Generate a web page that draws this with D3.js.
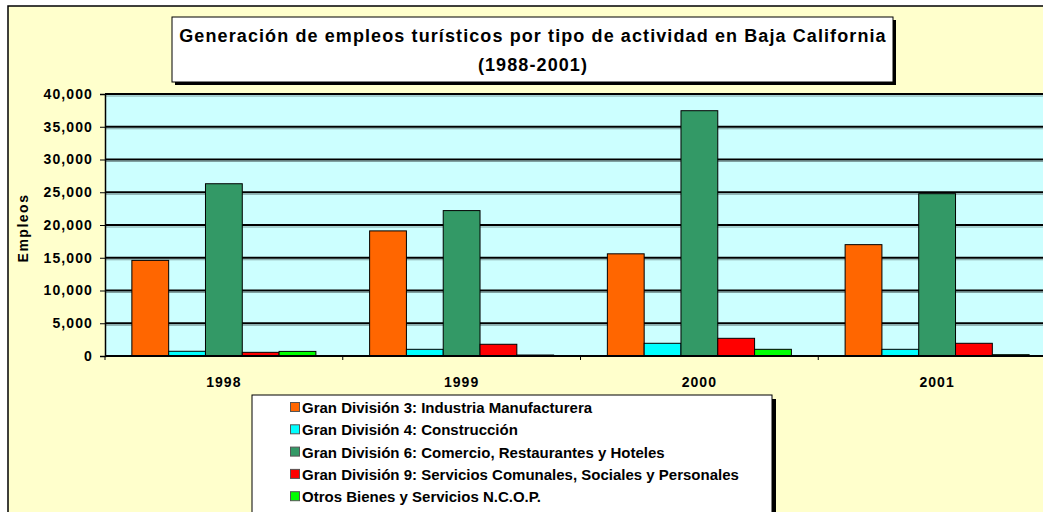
<!DOCTYPE html>
<html>
<head>
<meta charset="utf-8">
<script src="https://cdn.jsdelivr.net/npm/d3@7"></script>
<style>
body { margin: 0; background: #fff; }
text { font-family: "Liberation Sans", Arial, sans-serif; font-weight: bold; }
</style>
</head>
<body>
<svg id="chart"></svg>
<script>
var width = 1043, height = 512

var years = ["1998", "1999", "2000", "2001"]
var seriesNames = [
    "Gran División 3: Industria Manufacturera",
    "Gran División 4: Construcción",
    "Gran División 6: Comercio, Restaurantes y Hoteles",
    "Gran División 9: Servicios Comunales, Sociales y Personales",
    "Otros Bienes y Servicios N.C.O.P."
]
var seriesColors = ["#ff6600", "#00ffff", "#339966", "#ff0000", "#00ff00"]
var manufactura = [14600, 19100, 15600, 17000]
var construccion = [720, 1020, 1940, 1020]
var comercio = [26300, 22200, 37450, 24780]
var servicios = [560, 1790, 2700, 1940]
var otros = [700, 150, 1020, 200]
var values = [manufactura, construccion, comercio, servicios, otros]
var yTicks = [0, 5000, 10000, 15000, 20000, 25000, 30000, 35000, 40000]

var svg = d3.select("#chart")
    .attr("width", width)
    .attr("height", height)

// chart area
svg.append("rect")
    .attr("x", 8).attr("y", 6)
    .attr("width", 1060).attr("height", 520)
    .attr("fill", "#ffffcc")
    .attr("stroke", "#000")
    .attr("stroke-width", 1.5)

var plot = {left: 105, right: 1056, top: 94, bottom: 356}

var x0 = d3.scaleBand()
    .domain(years)
    .range([plot.left, plot.right])
    .paddingInner(0.226)
    .paddingOuter(0.113)

var x1 = d3.scaleBand()
    .domain(d3.range(seriesNames.length))
    .range([0, x0.bandwidth()])

var y = d3.scaleLinear()
    .domain([0, 40000])
    .range([plot.bottom, plot.top])

svg.append("rect")
    .attr("x", plot.left).attr("y", plot.top)
    .attr("width", plot.right - plot.left).attr("height", plot.bottom - plot.top)
    .attr("fill", "#ccffff")

// gridlines
var grid = svg.append("g")
grid.selectAll("line.shadow")
    .data(yTicks.slice(1))
    .enter().append("line")
    .attr("x1", plot.left).attr("x2", plot.right)
    .attr("y1", d => y(d) + 2).attr("y2", d => y(d) + 2)
    .attr("stroke", "#7fa0a0").attr("stroke-width", 1)
grid.selectAll("line.main")
    .data(yTicks.slice(1))
    .enter().append("line")
    .attr("x1", plot.left).attr("x2", plot.right)
    .attr("y1", d => y(d)).attr("y2", d => y(d))
    .attr("stroke", "#000").attr("stroke-width", 2)

// bars
var groups = svg.append("g").selectAll("g")
    .data(years)
    .enter().append("g")
    .attr("transform", d => "translate(" + x0(d) + ",0)")

groups.selectAll("rect")
    .data((d, i) => values.map((s, k) => ({k: k, v: s[i]})))
    .enter().append("rect")
    .attr("x", d => x1(d.k))
    .attr("y", d => y(d.v))
    .attr("width", x1.bandwidth())
    .attr("height", d => plot.bottom - y(d.v))
    .attr("fill", d => seriesColors[d.k])
    .attr("stroke", "#000")
    .attr("stroke-width", 1)

// axes
var yAxis = svg.append("g")
    .attr("transform", "translate(" + plot.left + ",0)")
    .call(d3.axisLeft(y).tickValues(yTicks).tickFormat(d3.format(",")).tickSize(5).tickPadding(7))
yAxis.select(".domain").attr("stroke", "#000").attr("stroke-width", 1.5)
yAxis.selectAll("text").attr("font-size", 14).attr("fill", "#000")
    .style("letter-spacing", "1.1px")
    .style("font-family", "'Liberation Sans', Arial, sans-serif").style("font-weight", "bold")

svg.append("line")
    .attr("x1", plot.left).attr("x2", plot.right)
    .attr("y1", plot.bottom).attr("y2", plot.bottom)
    .attr("stroke", "#000").attr("stroke-width", 2)

var boundaries = years.map(d => x0(d) - x0.step() * x0.paddingInner() / 2)
svg.selectAll("line.xtick")
    .data(boundaries)
    .enter().append("line")
    .attr("x1", d => d).attr("x2", d => d)
    .attr("y1", plot.bottom).attr("y2", plot.bottom + 4)
    .attr("stroke", "#000")

svg.selectAll("text.year")
    .data(years)
    .enter().append("text")
    .attr("x", d => x0(d) + x0.bandwidth() / 2)
    .attr("y", 387)
    .attr("text-anchor", "middle")
    .attr("font-size", 14)
    .style("letter-spacing", "1px")
    .text(d => d)

svg.append("text")
    .attr("transform", "translate(28,228) rotate(-90)")
    .attr("text-anchor", "middle")
    .attr("font-size", 14)
    .style("letter-spacing", "1.5px")
    .text("Empleos")

// title
svg.append("rect")
    .attr("x", 175).attr("y", 20).attr("width", 721).attr("height", 65)
    .attr("fill", "#000")
svg.append("rect")
    .attr("x", 172).attr("y", 17).attr("width", 721).attr("height", 65)
    .attr("fill", "#fff").attr("stroke", "#000").attr("stroke-width", 1)
svg.append("text")
    .attr("x", 533).attr("y", 42)
    .attr("text-anchor", "middle").attr("font-size", 18)
    .style("letter-spacing", "1.1px")
    .text("Generación de empleos turísticos por tipo de actividad en Baja California")
svg.append("text")
    .attr("x", 533).attr("y", 71)
    .attr("text-anchor", "middle").attr("font-size", 18)
    .style("letter-spacing", "1.1px")
    .text("(1988-2001)")

// legend
svg.append("rect")
    .attr("x", 256).attr("y", 399).attr("width", 520).attr("height", 120)
    .attr("fill", "#000")
svg.append("rect")
    .attr("x", 252).attr("y", 395).attr("width", 520).attr("height", 120)
    .attr("fill", "#fff").attr("stroke", "#000").attr("stroke-width", 1)

var legend = svg.append("g").selectAll("g")
    .data(seriesNames)
    .enter().append("g")
    .attr("transform", (d, i) => "translate(290," + (407 + i * 22.3) + ")")
legend.append("rect")
    .attr("x", 0.5).attr("y", -4.5).attr("width", 9).attr("height", 9)
    .attr("fill", (d, i) => seriesColors[i])
    .attr("stroke", "#555").attr("stroke-width", 1)
legend.append("text")
    .attr("x", 12).attr("y", 6)
    .attr("font-size", 15)
    .text(d => d)
</script>
</body>
</html>
